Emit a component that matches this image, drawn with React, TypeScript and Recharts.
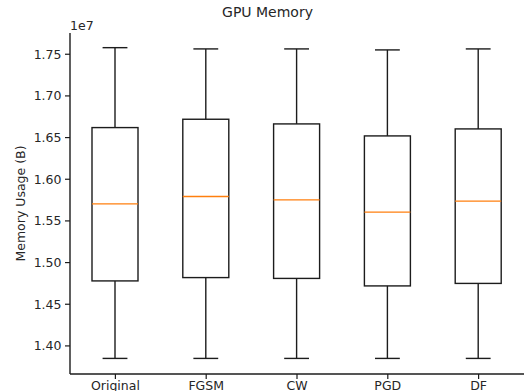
import React from 'react';
import { ComposedChart, Bar, XAxis, YAxis } from 'recharts';

const categories = ['Original', 'FGSM', 'CW', 'PGD', 'DF'];
const whiskerLow = [13850000, 13850000, 13850000, 13850000, 13850000];
const q1Values = [14780000, 14820000, 14810000, 14720000, 14750000];
const medianValues = [15705000, 15793000, 15753000, 15605000, 15737000];
const q3Values = [16620000, 16720000, 16664000, 16520000, 16604000];
const whiskerHigh = [17579000, 17564000, 17564000, 17552000, 17564000];
const yTicks = [14000000, 14500000, 15000000, 15500000, 16000000, 16500000, 17000000, 17500000];
const yDomain = [13663000, 17755000];

const data = categories.map((name, i) => ({
  name,
  range: [whiskerLow[i], whiskerHigh[i]],
  low: whiskerLow[i],
  q1: q1Values[i],
  median: medianValues[i],
  q3: q3Values[i],
  high: whiskerHigh[i],
}));

const FONT = '"DejaVu Sans", sans-serif';
const INK = '#1c1c1c';
const TEXT = '#262626';

const BoxShape = (props: any) => {
  const { x, y, width, height } = props;
  const p = props.payload ?? props;
  const top = Math.min(y, y + height);
  const bot = Math.max(y, y + height);
  const pix = (v: number) => bot - ((v - p.low) / (p.high - p.low)) * (bot - top);
  const cx = x + width / 2;
  const capHalf = width / 2 * 0.54;
  const sw = 1.4;
  return (
    <g>
      <line x1={cx} x2={cx} y1={pix(p.high)} y2={pix(p.q3)} stroke={INK} strokeWidth={sw} />
      <line x1={cx} x2={cx} y1={pix(p.q1)} y2={pix(p.low)} stroke={INK} strokeWidth={sw} />
      <line x1={cx - capHalf} x2={cx + capHalf} y1={pix(p.high)} y2={pix(p.high)} stroke={INK} strokeWidth={sw} />
      <line x1={cx - capHalf} x2={cx + capHalf} y1={pix(p.low)} y2={pix(p.low)} stroke={INK} strokeWidth={sw} />
      <rect x={x} y={pix(p.q3)} width={width} height={pix(p.q1) - pix(p.q3)} fill="none" stroke={INK} strokeWidth={sw} />
      <line x1={x} x2={x + width} y1={pix(p.median)} y2={pix(p.median)} stroke="#ff7f0e" strokeWidth={sw} />
    </g>
  );
};

const YLabel = (props: any) => {
  const vb = props.viewBox || {};
  const cx = 24.5;
  const cy = (vb.y ?? 33) + (vb.height ?? 341) / 2;
  return (
    <text x={cx} y={cy} transform={`rotate(-90, ${cx}, ${cy})`} textAnchor="middle" fontFamily={FONT} fontSize={12.5} fill={TEXT}>
      Memory Usage (B)
    </text>
  );
};

export default function App() {
  return (
    <div style={{ position: 'absolute', left: 0, top: 0, width: 526, height: 391, background: '#fff', overflow: 'hidden' }}>
      <ComposedChart width={526} height={391} data={data} margin={{ top: 33, right: 2, left: 10, bottom: 0 }}>
        <XAxis
          dataKey="name"
          height={17}
          tickSize={5}
          tickMargin={2}
          tick={{ fontFamily: FONT, fontSize: 12.5, fill: TEXT }}
          axisLine={{ stroke: INK, strokeWidth: 1.4 }}
          tickLine={{ stroke: INK, strokeWidth: 1.2 }}
          interval={0}
        />
        <XAxis
          xAxisId="top"
          dataKey="name"
          orientation="top"
          height={0}
          tick={false}
          tickLine={false}
          axisLine={{ stroke: INK, strokeWidth: 1.4 }}
        />
        <YAxis
          width={60}
          type="number"
          domain={yDomain}
          ticks={yTicks}
          allowDataOverflow
          tickFormatter={(v: number) => (v / 1e7).toFixed(2)}
          tickSize={5}
          tickMargin={3.5}
          tick={{ fontFamily: FONT, fontSize: 12.5, fill: TEXT }}
          axisLine={{ stroke: INK, strokeWidth: 1.4 }}
          tickLine={{ stroke: INK, strokeWidth: 1.2 }}
          label={<YLabel />}
        />
        <YAxis
          yAxisId="right"
          orientation="right"
          width={0}
          type="number"
          domain={yDomain}
          allowDataOverflow
          tick={false}
          tickLine={false}
          axisLine={{ stroke: INK, strokeWidth: 1.4 }}
        />
        <Bar dataKey="range" barSize={46} shape={BoxShape} isAnimationActive={false} />
      </ComposedChart>
      <svg width={526} height={40} style={{ position: 'absolute', left: 0, top: 0, pointerEvents: 'none' }}>
        <text x={267.5} y={17} textAnchor="middle" fontFamily={FONT} fontSize={14} fill={TEXT}>GPU Memory</text>
        <text x={70} y={29.5} textAnchor="start" fontFamily={FONT} fontSize={12.5} fill={TEXT}>1e7</text>
      </svg>
    </div>
  );
}
